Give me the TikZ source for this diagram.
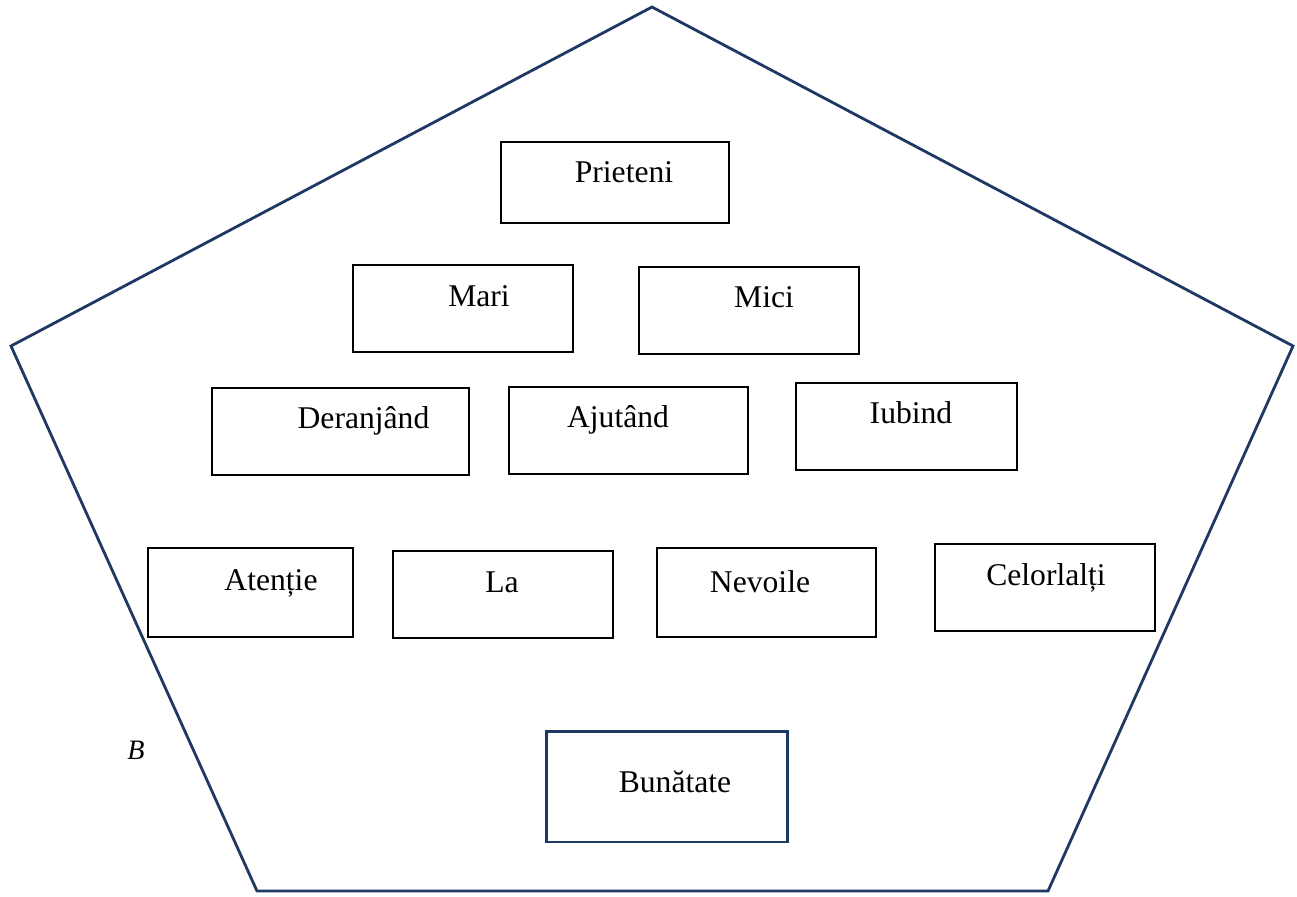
\documentclass[tikz,border=0pt]{standalone}
\usepackage{fontspec}
\setmainfont{Liberation Serif}
\usepackage{tikz}

\definecolor{pentblue}{HTML}{1F3864}

\tikzset{
  box/.style={draw=black, line width=0.8pt, inner sep=0pt},
  word/.style={anchor=base, inner sep=0pt, font=\fontsize{18}{22}\selectfont},
}

\begin{document}
\begin{tikzpicture}
\begin{scope}[x=0.02cm, y=-0.02cm]
\useasboundingbox (0,0) rectangle (1297,896);

\draw[pentblue, line width=1.6pt, line join=miter] (652,7) -- (1293,346) -- (1048,891) -- (257,891) -- (11,346) -- cycle;

\node[box, minimum width=4.56cm, minimum height=1.62cm] (prieteni) at (615,182.5) {};
\node[word] (tprieteni) at (624,182) {Prieteni};

\node[box, minimum width=4.40cm, minimum height=1.74cm] (mari) at (463,308.5) {};
\node[word] (tmari) at (479,306) {Mari};
\node[box, minimum width=4.40cm, minimum height=1.74cm] (mici) at (749,310.5) {};
\node[word] (tmici) at (764,307) {Mici};

\node[box, minimum width=5.14cm, minimum height=1.74cm] (deranjand) at (340.5,431.5) {};
\node[word] (tderanjand) at (363.5,428) {Deranjând};
\node[box, minimum width=4.78cm, minimum height=1.74cm] (ajutand) at (628.5,430.5) {};
\node[word] (tajutand) at (618,427) {Ajutând};
\node[box, minimum width=4.42cm, minimum height=1.74cm] (iubind) at (906.5,426.5) {};
\node[word] (tiubind) at (911,423) {Iubind};

\node[box, minimum width=4.10cm, minimum height=1.78cm] (atentie) at (250.5,592.5) {};
\node[word] (tatentie) at (271,590) {Atenție};
\node[box, minimum width=4.40cm, minimum height=1.74cm] (la) at (503,594.5) {};
\node[word] (tla) at (502,592) {La};
\node[box, minimum width=4.38cm, minimum height=1.78cm] (nevoile) at (766.5,592.5) {};
\node[word] (tnevoile) at (760,592) {Nevoile};
\node[box, minimum width=4.40cm, minimum height=1.74cm] (celorlalti) at (1045,587.5) {};
\node[word] (tcelorlalti) at (1046,585) {Celorlalți};

\node[box, draw=pentblue, line width=1.7pt, minimum width=4.84cm, minimum height=2.22cm] (bunatate) at (667,786.5) {};
\node[word] (tbunatate) at (675,792) {Bunătate};

\node[word, font=\fontsize{16}{19}\selectfont\itshape] (b) at (136,759) {B};

\end{scope}
\end{tikzpicture}
\end{document}
